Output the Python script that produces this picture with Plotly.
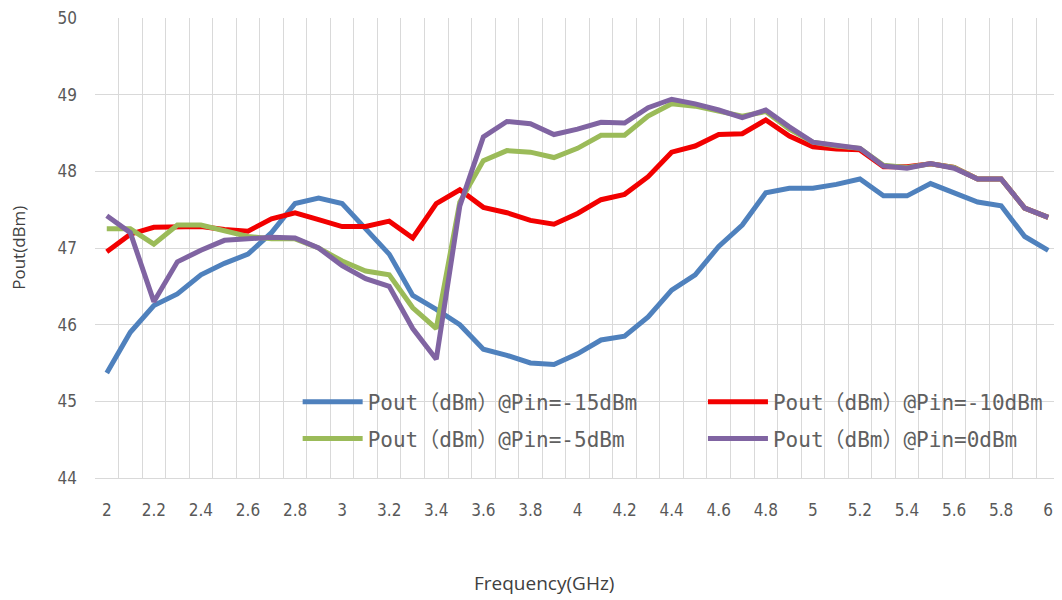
import plotly.graph_objects as go

freq = [round(2.0 + 0.1 * i, 1) for i in range(41)]

pin_m15 = [45.37, 45.90, 46.25, 46.40, 46.65, 46.80, 46.92, 47.20, 47.58, 47.65,
           47.58, 47.25, 46.92, 46.38, 46.20, 46.00, 45.68, 45.60, 45.50, 45.48,
           45.62, 45.80, 45.85, 46.10, 46.45, 46.65, 47.02, 47.30, 47.72, 47.78,
           47.78, 47.83, 47.90, 47.68, 47.68, 47.84, 47.72, 47.60, 47.55, 47.15,
           46.97]
pin_m10 = [46.95, 47.18, 47.27, 47.28, 47.28, 47.24, 47.22, 47.38, 47.46, 47.37,
           47.28, 47.28, 47.35, 47.13, 47.58, 47.76, 47.53, 47.46, 47.36, 47.31,
           47.45, 47.63, 47.70, 47.93, 48.25, 48.33, 48.48, 48.49, 48.67, 48.46,
           48.32, 48.29, 48.28, 48.06, 48.06, 48.10, 48.05, 47.90, 47.90, 47.52,
           47.40]
pin_m5 = [47.25, 47.25, 47.05, 47.30, 47.30, 47.22, 47.15, 47.12, 47.12, 47.00,
          46.83, 46.70, 46.65, 46.22, 45.95, 47.60, 48.14, 48.27, 48.25, 48.18,
          48.30, 48.47, 48.47, 48.72, 48.88, 48.85, 48.78, 48.72, 48.78, 48.55,
          48.38, 48.33, 48.30, 48.08, 48.05, 48.10, 48.05, 47.90, 47.90, 47.52,
          47.40]
pin_0 = [47.42, 47.20, 46.30, 46.82, 46.97, 47.10, 47.12, 47.14, 47.13, 47.00,
         46.77, 46.60, 46.50, 45.95, 45.55, 47.55, 48.45, 48.65, 48.62, 48.48,
         48.55, 48.64, 48.63, 48.83, 48.94, 48.88, 48.80, 48.70, 48.80, 48.58,
         48.38, 48.34, 48.30, 48.07, 48.04, 48.10, 48.04, 47.90, 47.90, 47.52,
         47.40]

series_names = ["Pout（dBm）@Pin=-15dBm", "Pout（dBm）@Pin=-10dBm",
                "Pout（dBm）@Pin=-5dBm", "Pout（dBm）@Pin=0dBm"]
series_values = [pin_m15, pin_m10, pin_m5, pin_0]
colors = ["#4F81BD", "#F20000", "#9BBB59", "#8064A2"]
legend_ids = ["legend", "legend2", "legend3", "legend4"]

x_tick_vals = [round(2.0 + 0.2 * i, 1) for i in range(21)]
x_tick_text = [f"{v:g}" for v in x_tick_vals]
boundaries = [round(1.95 + 0.1 * i, 2) for i in range(42)]

fig = go.Figure()
for name, vals, col, lg in zip(series_names, series_values, colors, legend_ids):
    fig.add_trace(go.Scatter(x=freq, y=vals, mode="lines", name=name, legend=lg,
                             line=dict(color=col, width=5)))

tick_font = dict(family="Liberation Sans Narrow, DejaVu Sans Condensed, sans-serif",
                 size=17, color="#595959")
legend_font = dict(family="DejaVu Sans Mono, Noto Sans CJK SC, monospace", size=21,
                   color="#606060")
legend_common = dict(orientation="h", xanchor="left", yanchor="middle",
                     font=legend_font, bgcolor="rgba(0,0,0,0)", itemwidth=60)

fig.update_layout(
    width=1054, height=592,
    margin=dict(l=87, r=2, t=10, b=122, autoexpand=False),
    paper_bgcolor="white", plot_bgcolor="white",
    showlegend=True,
    legend=dict(x=0.210, y=0.165, **legend_common),
    legend2=dict(x=0.630, y=0.165, **legend_common),
    legend3=dict(x=0.210, y=0.085, **legend_common),
    legend4=dict(x=0.630, y=0.085, **legend_common),
    xaxis=dict(range=[1.95, 6.05], tickvals=x_tick_vals, ticktext=x_tick_text,
               showgrid=False, zeroline=False, showline=True, linecolor="#D9D9D9",
               ticks="", tickfont=tick_font, ticklabelstandoff=17, automargin=False,
               ticklabeloverflow="allow",
               minor=dict(tickvals=boundaries, showgrid=True, gridcolor="#D9D9D9",
                          gridwidth=1, ticks="")),
    yaxis=dict(range=[44, 50], dtick=1, showgrid=True, gridcolor="#D9D9D9",
               zeroline=False, showline=False, ticks="", tickfont=tick_font,
               ticklabelstandoff=17, automargin=False, ticklabeloverflow="allow"),
    annotations=[
        dict(text="Frequency(GHz)", xref="paper", yref="paper", x=0.465, y=-0.228,
             xanchor="center", yanchor="middle", showarrow=False,
             font=dict(family="Open Sans, sans-serif", size=19, color="#404040")),
        dict(text="Pout(dBm)", xref="paper", yref="paper", x=-0.08, y=0.5,
             xanchor="center", yanchor="middle", showarrow=False, textangle=-90,
             font=dict(family="Open Sans, sans-serif", size=17, color="#404040")),
    ],
)

fig.write_html("out.html")
